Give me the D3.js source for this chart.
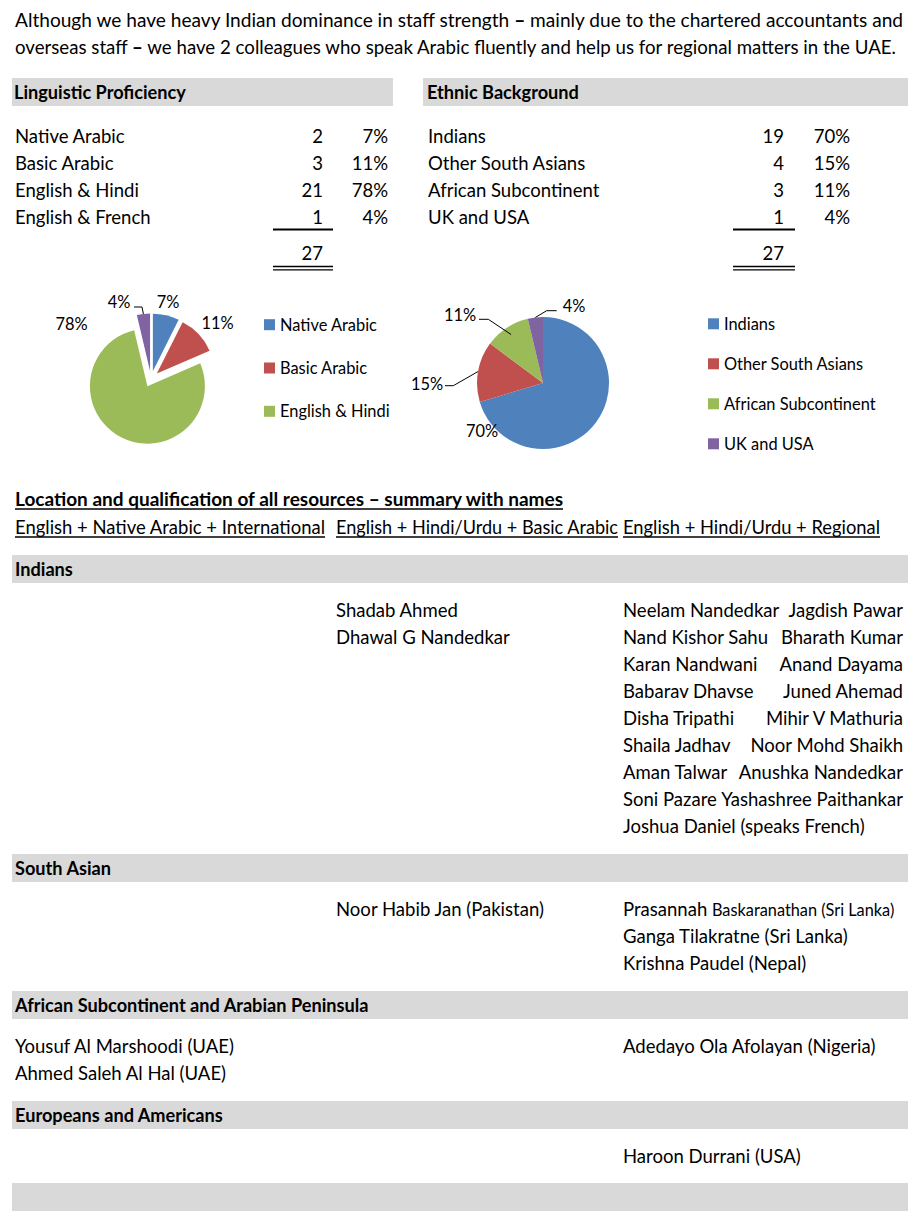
<!DOCTYPE html>
<html><head><meta charset="utf-8">
<script src="https://cdn.jsdelivr.net/npm/d3@7/dist/d3.min.js"></script>
<style>
body{margin:0;background:#fff}
text{font-family:Lato,"Open Sans",sans-serif;fill:#000}
</style>
</head><body>
<svg id="c" width="921" height="1230"></svg>
<script>
// ---------------- data ----------------
const introLines = [
  "Although we have heavy Indian dominance in staff strength \u2013 mainly due to the chartered accountants and",
  "overseas staff \u2013 we have 2 colleagues who speak Arabic fluently and help us for regional matters in the UAE."
];
const langTitle = "Linguistic Proficiency";
const langLabels = ["Native Arabic", "Basic Arabic", "English & Hindi", "English & French"];
const langCounts = [2, 3, 21, 1];
const langLegend = ["Native Arabic", "Basic Arabic", "English & Hindi"];

const ethTitle = "Ethnic Background";
const ethLabels = ["Indians", "Other South Asians", "African Subcontinent", "UK and USA"];
const ethCounts = [19, 4, 3, 1];
const ethLegend = ["Indians", "Other South Asians", "African Subcontinent", "UK and USA"];

const sliceColors = ["#4F81BD", "#C0504D", "#9BBB59", "#8064A2"];

const summaryTitle = "Location and qualification of all resources \u2013 summary with names";
const columnTitles = ["English + Native Arabic + International", "English + Hindi/Urdu + Basic Arabic", "English + Hindi/Urdu + Regional"];

const groupTitles = ["Indians", "South Asian", "African Subcontinent and Arabian Peninsula", "Europeans and Americans", ""];
const indiansCol1 = [];
const indiansCol2 = ["Shadab Ahmed", "Dhawal G Nandedkar"];
const indiansCol3 = ["Neelam Nandedkar", "Nand Kishor Sahu", "Karan Nandwani", "Babarav Dhavse", "Disha Tripathi", "Shaila Jadhav", "Aman Talwar", "Soni Pazare", "Joshua Daniel (speaks French)"];
const indiansCol3b = ["Jagdish Pawar", "Bharath Kumar", "Anand Dayama", "Juned Ahemad", "Mihir V Mathuria", "Noor Mohd Shaikh", "Anushka Nandedkar", "Yashashree Paithankar"];
const southCol1 = [];
const southCol2 = ["Noor Habib Jan (Pakistan)"];
const southCol3 = [["Prasannah ", "Baskaranathan (Sri Lanka)"], "Ganga Tilakratne (Sri Lanka)", "Krishna Paudel (Nepal)"];
const africanCol1 = ["Yousuf Al Marshoodi (UAE)", "Ahmed Saleh Al Hal (UAE)"];
const africanCol2 = [];
const africanCol3 = ["Adedayo Ola Afolayan (Nigeria)"];
const euroCol1 = [];
const euroCol2 = [];
const euroCol3 = ["Haroon Durrani (USA)"];

// ---------------- layout ----------------
const svg = d3.select("#c");
const grey = "#D9D9D9";

function fitSize(str, weight, target) {
  const t = svg.append("text").attr("font-size", 100).attr("font-weight", weight).text(str);
  const w = t.node().getComputedTextLength();
  t.remove();
  return 100 * target / w;
}
const bodySize = fitSize("Yousuf Al Marshoodi (UAE)", 400, 219);
const boldSize = fitSize("Linguistic Proficiency", 700, 172);
const chartSize = fitSize("Native Arabic", 400, 97);

function txt(x, y, s, opt = {}) {
  const t = svg.append("text").attr("x", x).attr("y", y)
    .attr("font-size", opt.size || bodySize)
    .attr("font-weight", opt.bold ? 700 : 400)
    .attr("text-anchor", opt.anchor || "start");
  if (opt.boldDash) {
    String(s).split("\u2013").forEach((part, i) => {
      if (i > 0) t.append("tspan").attr("font-weight", 900).text("\u2013");
      t.append("tspan").text(part);
    });
  } else {
    t.text(s);
  }
  if (opt.len) t.attr("textLength", opt.len).attr("lengthAdjust", "spacingAndGlyphs");
  if (opt.underline) {
    const w = opt.len || t.node().getComputedTextLength();
    svg.append("line").attr("x1", x).attr("x2", x + w)
      .attr("y1", y + 3).attr("y2", y + 3)
      .attr("stroke", "#000").attr("stroke-width", 1.3);
  }
  return t;
}

// intro
txt(15, 27, introLines[0], {len: 888, boldDash: true});
txt(15, 54, introLines[1], {len: 881, boldDash: true});

// tables
function table(x0, x1, labelX, numRight, pctRight, lineX0, lineX1, title, labels, counts) {
  svg.append("rect").attr("x", x0).attr("y", 78).attr("width", x1 - x0).attr("height", 28).attr("fill", grey);
  txt(labelX - 1, 99, title, {bold: true, size: boldSize});
  const total = d3.sum(counts);
  const rowY = d3.scalePoint().domain(d3.range(labels.length)).range([143, 143 + 27 * (labels.length - 1)]);
  labels.forEach((l, i) => {
    txt(labelX, rowY(i), l);
    txt(numRight, rowY(i), counts[i], {anchor: "end"});
    txt(pctRight, rowY(i), Math.round(counts[i] / total * 100) + "%", {anchor: "end"});
  });
  svg.append("line").attr("x1", lineX0).attr("x2", lineX1).attr("y1", 229.5).attr("y2", 229.5).attr("stroke", "#000").attr("stroke-width", 2);
  txt(numRight, 260, total, {anchor: "end"});
  [266.5, 269.8].forEach(y => svg.append("line").attr("x1", lineX0).attr("x2", lineX1).attr("y1", y).attr("y2", y).attr("stroke", "#000").attr("stroke-width", 1.3));
}
table(12, 393, 15, 323, 388, 273, 333, langTitle, langLabels, langCounts);
table(423, 908, 428, 784, 850, 733, 795, ethTitle, ethLabels, ethCounts);

// pies
const pie = d3.pie().sort(null).value(d => d);
function dir(a) { return [Math.sin(a), -Math.cos(a)]; }

function drawPie(cfg) {
  const total = d3.sum(cfg.values);
  const arcs = pie(cfg.values);
  const arc = d3.arc().innerRadius(0).outerRadius(cfg.r);
  const g = svg.append("g").attr("transform", `translate(${cfg.cx},${cfg.cy})`);
  arcs.forEach((a, i) => {
    const m = (a.startAngle + a.endAngle) / 2;
    const [dx, dy] = dir(m);
    g.append("path").attr("d", arc(a)).attr("fill", sliceColors[i])
      .attr("transform", `translate(${dx * cfg.explode},${dy * cfg.explode})`);
    const lab = cfg.labels[i];
    g.append("text").attr("x", lab.x).attr("y", lab.y).attr("dy", "0.36em")
      .attr("text-anchor", "middle").attr("font-size", chartSize)
      .text(Math.round(a.value / total * 100) + "%");
    if (lab.leader) {
      const rr = cfg.r * (lab.reach || 1);
      const end = [dx * (cfg.explode + rr), dy * (cfg.explode + rr)];
      const pts = lab.leader.concat([end]);
      g.append("path").attr("d", d3.line()(pts)).attr("fill", "none").attr("stroke", "#000").attr("stroke-width", 1);
    }
  });
  const ly = d3.scalePoint().domain(cfg.legend).range([cfg.legendY0, cfg.legendY0 + cfg.legendStep * (cfg.legend.length - 1)]);
  cfg.legend.forEach((l, i) => {
    svg.append("rect").attr("x", cfg.legendX).attr("y", ly(l) - 5.5).attr("width", 11).attr("height", 11).attr("fill", sliceColors[i]);
    svg.append("text").attr("x", cfg.legendX + 16).attr("y", ly(l)).attr("dy", "0.36em").attr("font-size", chartSize).text(l);
  });
}

drawPie({
  values: langCounts, cx: 151, cy: 379, r: 57.5, explode: 8,
  labels: [
    {x: 17, y: -76.5},
    {x: 66.5, y: -56},
    {x: -79.5, y: -55},
    {x: -32, y: -76.5, leader: [[-17, -72], [-9, -72]]}
  ],
  legend: langLegend, legendX: 264, legendY0: 324.7, legendStep: 43.3
});

drawPie({
  values: ethCounts, cx: 543, cy: 383, r: 66, explode: 0,
  labels: [
    {x: -61, y: 48},
    {x: -116, y: 1, leader: [[-98, 2.7], [-89.7, 2.7]]},
    {x: -83, y: -68, leader: [[-64, -63.7], [-54.7, -63.7]], reach: 0.88},
    {x: 31, y: -77, leader: [[13.7, -72.3], [3.7, -72.3]]}
  ],
  legend: ethLegend, legendX: 708, legendY0: 323.8, legendStep: 40
});

// summary section
txt(15, 506, summaryTitle, {bold: true, size: boldSize, underline: true, len: 548, boldDash: true});
const colX = [15, 336, 623];
const colTitleLen = [310, 282, 257];
columnTitles.forEach((c, i) => txt(colX[i], 534, c, {underline: true, len: colTitleLen[i]}));

const groups = [
  {top: 555, cols: [indiansCol1, indiansCol2, indiansCol3], extra: indiansCol3b},
  {top: 854, cols: [southCol1, southCol2, southCol3]},
  {top: 991, cols: [africanCol1, africanCol2, africanCol3]},
  {top: 1101, cols: [euroCol1, euroCol2, euroCol3]},
  {top: 1183, cols: [[], [], []]}
];
groups.forEach((gr, gi) => {
  svg.append("rect").attr("x", 12).attr("y", gr.top).attr("width", 896).attr("height", 28).attr("fill", grey);
  if (groupTitles[gi]) txt(15, gr.top + 21, groupTitles[gi], {bold: true, size: boldSize});
  gr.cols.forEach((col, ci) => {
    col.forEach((name, ri) => {
      const y = gr.top + 62 + ri * 27;
      if (Array.isArray(name)) {
        const t = svg.append("text").attr("x", colX[ci]).attr("y", y).attr("font-size", bodySize);
        t.append("tspan").text(name[0]);
        t.append("tspan").attr("font-size", bodySize * 0.88).text(name[1]);
      } else {
        txt(colX[ci], y, name);
      }
    });
  });
  if (gr.extra) gr.extra.forEach((name, ri) => txt(903, gr.top + 62 + ri * 27, name, {anchor: "end"}));
});
</script>
</body></html>
